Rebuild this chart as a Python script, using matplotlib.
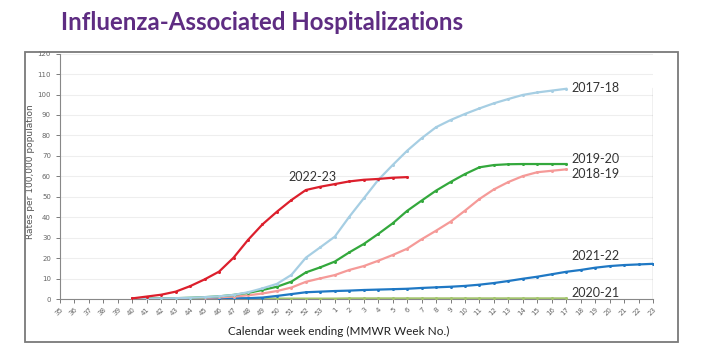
import matplotlib.pyplot as plt
from matplotlib.patches import Rectangle

# MMWR weeks on the x axis
weeks = list(range(35, 54)) + list(range(1, 24))
week_labels = [str(w) for w in weeks]
start_idx = weeks.index(40)

# cumulative rates per 100,000, starting at week 40
s2017_18 = [0.1, 0.2, 0.3, 0.4, 0.6, 0.9, 1.3, 2.0, 3.3, 5.2, 7.4, 11.8, 20.2, 25.3,
            30.5, 40.2, 49.2, 58.2, 65.5, 72.5, 78.6, 84.0, 87.5, 90.5, 93.2, 95.7,
            97.8, 99.8, 101.0, 101.9, 102.8]
s2018_19 = [0.1, 0.1, 0.2, 0.3, 0.4, 0.6, 0.8, 1.2, 1.8, 2.7, 3.9, 5.6, 8.4, 10.1,
            11.7, 14.2, 16.1, 18.7, 21.5, 24.6, 29.2, 33.4, 37.8, 43.2, 48.9, 53.6,
            57.2, 60.1, 62.0, 62.7, 63.4]
s2019_20 = [0.1, 0.2, 0.3, 0.4, 0.6, 0.9, 1.3, 2.0, 3.0, 4.4, 6.0, 8.5, 13.0, 15.5,
            18.3, 22.8, 26.9, 31.8, 37.0, 43.1, 48.1, 53.0, 57.2, 61.1, 64.4, 65.5,
            65.9, 66.0, 66.0, 66.0, 66.0]
s2020_21 = [0.1, 0.1, 0.1, 0.1, 0.1, 0.1, 0.1, 0.2, 0.2, 0.2, 0.2, 0.2, 0.2, 0.2,
            0.2, 0.3, 0.3, 0.3, 0.3, 0.3, 0.3, 0.3, 0.3, 0.3, 0.3, 0.3, 0.3, 0.3,
            0.3, 0.3, 0.3]
s2021_22 = [0.0, 0.0, 0.1, 0.1, 0.1, 0.2, 0.2, 0.3, 0.4, 0.7, 1.5, 2.4, 3.3, 3.6,
            3.9, 4.1, 4.4, 4.6, 4.8, 5.0, 5.4, 5.7, 6.0, 6.4, 7.0, 7.8, 8.8, 9.9,
            10.9, 12.1, 13.3, 14.2, 15.3, 16.1, 16.6, 16.9, 17.2]
s2022_23 = [0.3, 1.2, 2.1, 3.6, 6.3, 9.6, 13.4, 20.2, 28.9, 36.5, 42.7, 48.4, 53.3,
            54.9, 56.2, 57.5, 58.3, 58.7, 59.3, 59.6]

series = [
    ("2020-21", s2020_21, "#a3c46e"),
    ("2021-22", s2021_22, "#1f78c4"),
    ("2018-19", s2018_19, "#f59a98"),
    ("2019-20", s2019_20, "#33a83c"),
    ("2017-18", s2017_18, "#a6cee3"),
    ("2022-23", s2022_23, "#dc1f2c"),
]

fig = plt.figure(figsize=(7.08, 3.6), dpi=100)
fig.patch.set_facecolor("white")

# outer frame of the embedded chart
fig.patches.append(Rectangle((25 / 708, 18 / 360), 653 / 708, 290 / 360,
                             transform=fig.transFigure, fill=False,
                             edgecolor="#7a7a7a", lw=1.3))

fig.text(61 / 708, 1 - 23 / 360, "Influenza-Associated Hospitalizations",
         fontsize=17.3, fontweight="bold", color="#5e2c82",
         family="Lato", va="center", ha="left")

ax = fig.add_axes([60 / 708, 1 - 299 / 360, 593 / 708, 245.4 / 360])

x_all = list(range(len(weeks)))
for name, vals, color in series:
    xs = x_all[start_idx:start_idx + len(vals)]
    ax.plot(xs, vals, color=color, lw=1.6, marker="o", ms=2.2,
            markeredgewidth=0, zorder=3)

ax.set_xlim(0, len(weeks) - 1)
ax.set_ylim(0, 120)
ax.set_yticks(range(0, 121, 10))
ax.set_xticks(x_all)
ax.set_xticklabels(week_labels, rotation=45, ha="right", va="top",
                   rotation_mode="anchor")
ax.tick_params(axis="both", labelsize=5, colors="#666666", length=3, width=0.6)
ax.tick_params(axis="x", pad=2)
ax.grid(axis="y", color="#eeeeee", lw=0.8)
ax.set_axisbelow(True)

for side in ["top", "right"]:
    ax.spines[side].set_visible(False)
for side in ["left", "bottom"]:
    ax.spines[side].set_color("#888888")
    ax.spines[side].set_linewidth(0.8)
ax.axvline(len(weeks) - 1, ymin=0, ymax=103 / 120, color="#888888", lw=0.9)

ax.set_ylabel("Rates per 100,000 population", fontsize=6.5, color="#555555")
ax.yaxis.set_label_coords(-0.042, 0.52)
ax.set_xlabel("Calendar week ending (MMWR Week No.)", fontsize=8.5,
              color="#222222", family="Lato")
ax.xaxis.set_label_coords(0.47, -0.11)

end_idx = weeks.index(17) + 0.35
lab_kw = dict(fontsize=9, color="#333333", family="Lato", va="center", ha="left")
ax.text(end_idx, 103.3, "2017-18", **lab_kw)
ax.text(end_idx, 68.3, "2019-20", **lab_kw)
ax.text(end_idx, 61.0, "2018-19", **lab_kw)
ax.text(end_idx, 21.0, "2021-22", **lab_kw)
ax.text(end_idx, 3.0, "2020-21", **lab_kw)
ax.text(15.8, 59.8, "2022-23", **lab_kw)

fig.savefig("out.png", dpi=100)
